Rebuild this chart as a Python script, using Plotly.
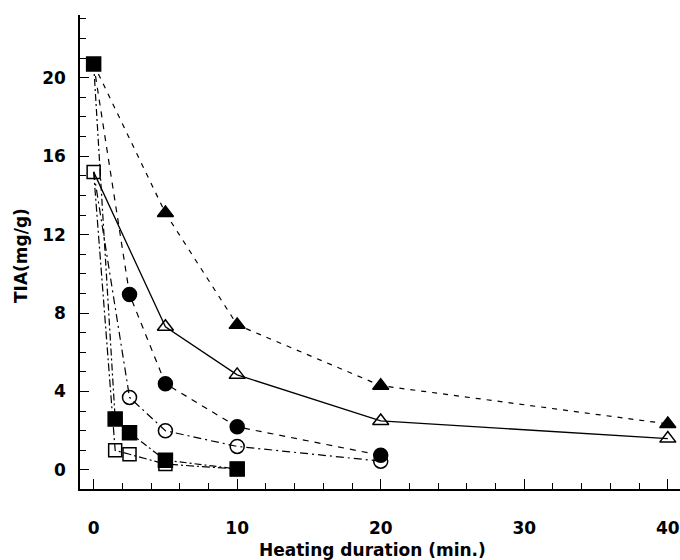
import plotly.graph_objects as go

# ---- data ----
ftri_x = [0, 5, 10, 20, 40]
ftri_y = [20.7, 13.1, 7.4, 4.3, 2.35]

otri_x = [0, 5, 10, 20, 40]
otri_y = [15.2, 7.3, 4.85, 2.5, 1.6]

fcirc_x = [0, 2.5, 5, 10, 20]
fcirc_y = [20.7, 8.95, 4.4, 2.2, 0.75]

ocirc_x = [0, 2.5, 5, 10, 20]
ocirc_y = [15.2, 3.7, 2.0, 1.2, 0.45]

fsq_x = [0, 1.5, 2.5, 5, 10]
fsq_y = [20.7, 2.6, 1.9, 0.5, 0.05]

osq_x = [0, 1.5, 2.5, 5, 10]
osq_y = [15.2, 1.0, 0.8, 0.3, 0.05]

x_ticks = [0, 10, 20, 30, 40]
y_ticks = [0, 4, 8, 12, 16, 20]

FONT = dict(family="DejaVu Sans", size=17, color="black", weight="bold")

fig = go.Figure()


def add(xs, ys, symbol, size, dash, hide_first, lw=1.2, fill="black"):
    sizes = [0 if (hide_first and i == 0) else size for i in range(len(xs))]
    fig.add_trace(go.Scatter(
        x=xs, y=ys, mode="lines+markers",
        line=dict(color="black", width=lw, dash=dash),
        marker=dict(symbol=symbol, size=sizes, color=fill, opacity=1,
                    line=dict(color="black", width=1.5)),
        showlegend=False, cliponaxis=False,
    ))


add(ftri_x, ftri_y, "triangle-up", 14, "5px,6px", True)
add(otri_x, otri_y, "triangle-up-open", 14, "solid", True, lw=1.3)
add(fcirc_x, fcirc_y, "circle", 14, "6px,6px", True)
add(ocirc_x, ocirc_y, "circle-open", 14, "8px,4px,2px,4px", True)
add(osq_x, osq_y, "square-open", 13, "8px,3px,2px,3px", False)
add(fsq_x, fsq_y, "square", 14, "7px,3px,2px,3px", False)

fig.update_layout(
    width=680, height=560,
    margin=dict(l=80, r=0, t=15, b=71, pad=0),
    plot_bgcolor="white", paper_bgcolor="white",
    font=FONT,
    xaxis=dict(
        range=[-0.95, 40.85], tickvals=x_ticks, ticktext=[str(v) for v in x_ticks],
        ticks="inside", ticklen=10, tickwidth=1.2, tickcolor="black",
        minor=dict(dtick=2, tick0=0, ticks="inside", ticklen=6, tickwidth=1, tickcolor="black"),
        showline=True, linecolor="black", linewidth=1.5,
        showgrid=False, zeroline=False, automargin=False,
        ticklabelstandoff=23, tickfont=FONT,
    ),
    yaxis=dict(
        range=[-0.97, 23.2], tickvals=y_ticks, ticktext=[str(v) for v in y_ticks],
        ticks="inside", ticklen=9, tickwidth=1.2, tickcolor="black",
        minor=dict(dtick=1, tick0=0, ticks="inside", ticklen=6, tickwidth=1, tickcolor="black"),
        showline=True, linecolor="black", linewidth=1.5,
        showgrid=False, zeroline=False, automargin=False,
        ticklabelstandoff=9, tickfont=FONT,
    ),
    annotations=[
        dict(text="Heating duration (min.)", xref="paper", yref="paper",
             x=(372 - 80) / 600, y=-(550 - 489) / 474, xanchor="center", yanchor="middle",
             showarrow=False, font=FONT),
        dict(text="TIA(mg/g)", xref="paper", yref="paper",
             x=(21 - 80) / 600, y=(489 - 256) / 474, xanchor="center", yanchor="middle",
             textangle=-90, showarrow=False, font=FONT),
    ],
)

fig.write_html("out.html", config={"displayModeBar": False},
               post_script="document.body.style.margin='0';document.body.style.overflow='hidden';")
